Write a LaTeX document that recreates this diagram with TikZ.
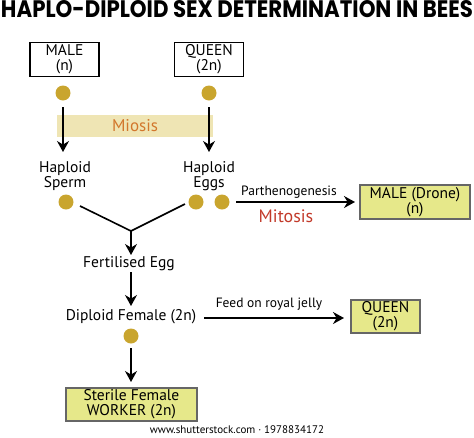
\documentclass[tikz,border=0pt]{standalone}
\usepackage{fontspec}
\setmainfont{PT Sans}
\newfontfamily\titlefont{Poppins}
\usetikzlibrary{arrows.meta}
\definecolor{dotc}{HTML}{C9A52E}
\definecolor{boxfill}{HTML}{E6E88A}
\definecolor{bandc}{HTML}{EFE5B4}
\definecolor{miosisc}{HTML}{D2772C}
\definecolor{mitosisc}{HTML}{C23A2A}
\tikzset{
  dot/.style={circle,fill=dotc,minimum size=15pt,inner sep=0pt},
  plainbox/.style={draw=black,line width=1.4pt,minimum width=69pt,minimum height=34pt,inner sep=0pt,align=center,font=\fontsize{15.5}{15.2}\selectfont},
  yelbox/.style={draw=black!60,fill=boxfill,line width=1.3pt,inner sep=0pt,align=center,font=\fontsize{15.5}{15.2}\selectfont},
  lbl/.style={inner sep=0pt,align=center,font=\fontsize{15.5}{15.5}\selectfont},
  small/.style={inner sep=0pt,font=\fontsize{13.5}{14}\selectfont},
  arr/.style={line width=1.6pt,-{Stealth[length=11pt,width=12pt]}},
  ln/.style={line width=1.6pt}
}
\begin{document}
\begin{tikzpicture}[x=1pt,y=-1pt]
\useasboundingbox (0,0) rectangle (474,437);
% title
\node[inner sep=0pt] (title) at (237,9) {\resizebox{472pt}{17pt}{\titlefont\bfseries HAPLO-DIPLOID SEX DETERMINATION IN BEES}};
% top boxes
\node[plainbox] (male) at (64.5,59.5) {MALE\\(n)};
\node[plainbox] (queen) at (209,59.5) {QUEEN\\(2n)};
% miosis band
\fill[bandc] (57,115) rectangle (213,137);
\node[lbl,text=miosisc,font=\fontsize{17}{17}\selectfont] (miosis) at (135,126) {Miosis};
% dots
\node[dot] (md) at (63,93) {};
\node[dot] (qd) at (209,93) {};
\coordinate (ms) at (63,107);
\coordinate (qs) at (209,107);
\coordinate (ma) at (63,152);
\coordinate (qa) at (209,152);
\draw[arr] (ms) -- (ma);
\draw[arr] (qs) -- (qa);
% haploid labels
\node[lbl] (sperm) at (65,176) {Haploid\\Sperm};
\node[lbl] (eggs) at (209,176) {Haploid\\Eggs};
\node[dot] (sd) at (66,202) {};
\node[dot] (ed1) at (196,202) {};
\node[dot] (ed2) at (222,202) {};
% fusion
\coordinate (j) at (131,231);
\coordinate (s1) at (80,206);
\coordinate (e1) at (185,204);
\draw[ln] (s1) -- (j);
\draw[ln] (e1) -- (j);
\coordinate (fa) at (131,255);
\draw[arr] (j) -- (fa);
\node[lbl] (fert) at (129,264) {Fertilised Egg};
\coordinate (fs) at (131,272);
\coordinate (dfa) at (131,306);
\draw[arr] (fs) -- (dfa);
\node[lbl] (dip) at (131,317) {Diploid Female (2n)};
% parthenogenesis
\node[yelbox,minimum width=110pt,minimum height=34pt] (drone) at (415,202) {MALE (Drone)\\(n)};
\coordinate (pstart) at (236,202);
\coordinate (pend) at (355,202);
\draw[arr] (pstart) -- (pend);
\node[small] (parth) at (289,192) {Parthenogenesis};
\node[lbl,text=mitosisc,font=\fontsize{18}{18}\selectfont] (mitosis) at (286,216) {Mitosis};
% royal jelly
\node[yelbox,minimum width=69pt,minimum height=33pt] (q2) at (385.5,316.5) {QUEEN\\(2n)};
\coordinate (rj) at (204,318);
\coordinate (rje) at (344,318);
\draw[arr] (rj) -- (rje);
\node[small] (feed) at (269,304) {Feed on royal jelly};
% worker
\node[dot] (dd) at (131,336) {};
\node[yelbox,minimum width=131pt,minimum height=33pt] (worker) at (131.5,404.5) {Sterile Female\\WORKER (2n)};
\coordinate (ws) at (131,348);
\coordinate (we) at (131,382);
\draw[arr] (ws) -- (we);
% footer
\node[inner sep=0pt,font=\fontsize{11}{12}\selectfont] (foot) at (237,430) {www.shutterstock.com · 1978834172};
\end{tikzpicture}
\end{document}
